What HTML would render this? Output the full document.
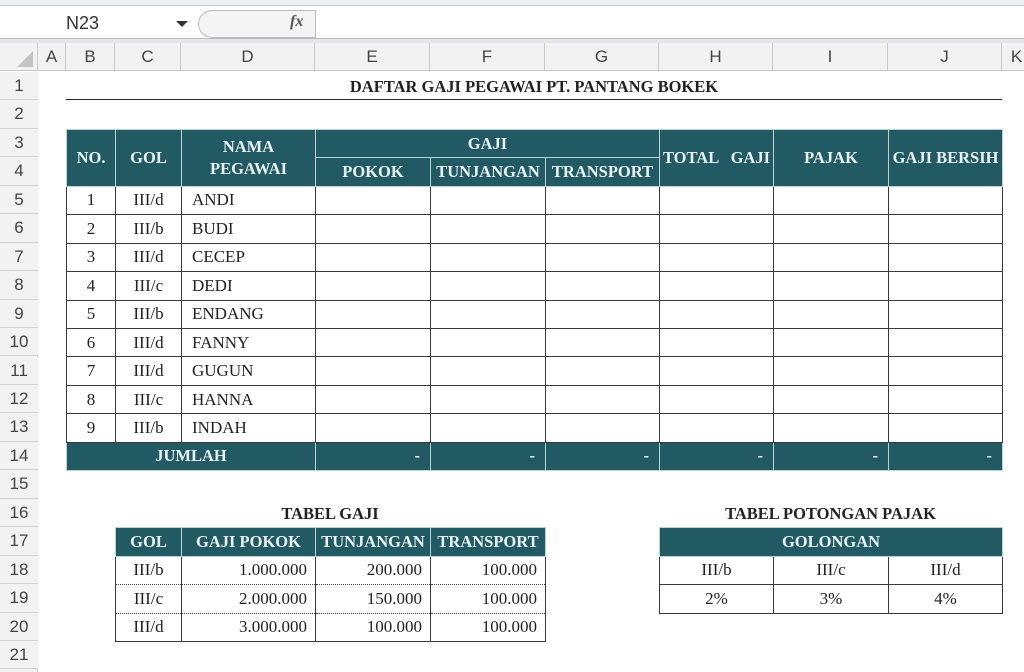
<!DOCTYPE html>
<html><head><meta charset="utf-8"><style>
*{margin:0;padding:0;box-sizing:border-box}
body{width:1024px;height:658px;background:#fff;position:relative;overflow:hidden;font-family:"Liberation Serif",serif;color:#222}
.abs{position:absolute}
.ui{font-family:"Liberation Sans",sans-serif;color:#333}
.ch{position:absolute;top:43px;height:28px;border-right:1px solid #c8c8c8;text-align:center;line-height:28px;font-size:17px;font-family:"Liberation Sans",sans-serif;color:#444}
.rh{position:absolute;left:0;width:38px;height:28.45px;border-bottom:1px solid #d0d0d0;text-align:center;font-size:17px;font-family:"Liberation Sans",sans-serif;color:#444;background:#f2f2f2;line-height:28px}
table{position:absolute;border-collapse:collapse;table-layout:fixed;font-size:17px}
td{border:1px solid #3a3a3a;height:28.45px;padding:0 8px;white-space:nowrap;overflow:hidden}
.h td{background:#225a63;color:#e8f2f2;font-weight:bold;text-align:center;border-color:#b9d3d6;font-size:16.5px;padding:0 2px}
.c{text-align:center}.r{text-align:right}
.dot td{border-bottom:1px dotted #444}
.dot2 td{border-top:1px dotted #444}
.nm{padding-left:10px}
</style></head><body>
<div class="abs" style="left:0;top:0;width:1024px;height:6px;background:#eceef0;border-bottom:1px solid #ccc"></div>
<div class="abs" style="left:0;top:38px;width:1024px;height:5px;background:#e4e6e8;border-top:1px solid #bbb"></div>
<div class="abs ui" style="left:66px;top:13px;font-size:18px">N23</div>
<div class="abs" style="left:176px;top:21px;width:0;height:0;border-left:6px solid transparent;border-right:6px solid transparent;border-top:6px solid #333"></div>
<div class="abs" style="left:198px;top:10px;width:117px;height:28px;border:1px solid #bbb;border-right:none;border-radius:14px 0 0 14px;background:#f4f4f4"></div>
<div class="abs" style="left:290px;top:13px;font-style:italic;font-weight:bold;font-size:16px;color:#555">fx</div>
<div class="abs" style="left:315px;top:10px;width:1px;height:28px;background:#bbb"></div>
<div class="abs" style="left:0;top:43px;width:1024px;height:28px;background:#f2f2f2;border-bottom:1px solid #c8c8c8"></div>
<div class="ch" style="left:0;width:38px"><div style="position:absolute;right:4px;bottom:4px;width:0;height:0;border-left:16px solid transparent;border-bottom:16px solid #c4c4c4"></div></div>
<div class="ch" style="left:38px;width:28px">A</div>
<div class="ch" style="left:66px;width:49px">B</div>
<div class="ch" style="left:115px;width:66px">C</div>
<div class="ch" style="left:181px;width:134px">D</div>
<div class="ch" style="left:315px;width:115px">E</div>
<div class="ch" style="left:430px;width:115px">F</div>
<div class="ch" style="left:545px;width:114px">G</div>
<div class="ch" style="left:659px;width:114px">H</div>
<div class="ch" style="left:773px;width:115px">I</div>
<div class="ch" style="left:888px;width:114px">J</div>
<div class="ch" style="left:1002px;width:30px">K</div>
<div class="abs" style="left:0;top:72px;width:38px;height:600px;background:#f2f2f2;border-right:1px solid #c8c8c8"></div>
<div class="rh" style="top:72px">1</div><div class="rh" style="top:100.45px">2</div><div class="rh" style="top:128.9px">3</div><div class="rh" style="top:157.35px">4</div><div class="rh" style="top:185.8px">5</div><div class="rh" style="top:214.25px">6</div><div class="rh" style="top:242.7px">7</div><div class="rh" style="top:271.15px">8</div><div class="rh" style="top:299.6px">9</div><div class="rh" style="top:328.05px">10</div><div class="rh" style="top:356.5px">11</div><div class="rh" style="top:384.95px">12</div><div class="rh" style="top:413.4px">13</div><div class="rh" style="top:441.85px">14</div><div class="rh" style="top:470.3px">15</div><div class="rh" style="top:498.75px">16</div><div class="rh" style="top:527.2px">17</div><div class="rh" style="top:555.65px">18</div><div class="rh" style="top:584.1px">19</div><div class="rh" style="top:612.55px">20</div><div class="rh" style="top:641px">21</div>

<div class="abs" style="left:66px;top:77px;width:936px;text-align:center;font-weight:bold;font-size:16.5px">DAFTAR GAJI PEGAWAI PT. PANTANG BOKEK</div>
<div class="abs" style="left:66px;top:99px;width:936px;height:1px;background:#222"></div>

<table style="left:66px;top:128.9px;width:936px">
<colgroup><col style="width:49px"><col style="width:66px"><col style="width:134px"><col style="width:115px"><col style="width:115px"><col style="width:114px"><col style="width:114px"><col style="width:115px"><col style="width:114px"></colgroup>
<tr class="h"><td rowspan="2">NO.</td><td rowspan="2">GOL</td><td rowspan="2" style="line-height:22px">NAMA<br>PEGAWAI</td><td colspan="3">GAJI</td><td rowspan="2">TOTAL &nbsp; GAJI</td><td rowspan="2">PAJAK</td><td rowspan="2">GAJI BERSIH</td></tr>
<tr class="h"><td>POKOK</td><td>TUNJANGAN</td><td>TRANSPORT</td></tr>
<tr><td class="c">1</td><td class="c">III/d</td><td class="nm">ANDI</td><td></td><td></td><td></td><td></td><td></td><td></td></tr>
<tr><td class="c">2</td><td class="c">III/b</td><td class="nm">BUDI</td><td></td><td></td><td></td><td></td><td></td><td></td></tr>
<tr><td class="c">3</td><td class="c">III/d</td><td class="nm">CECEP</td><td></td><td></td><td></td><td></td><td></td><td></td></tr>
<tr><td class="c">4</td><td class="c">III/c</td><td class="nm">DEDI</td><td></td><td></td><td></td><td></td><td></td><td></td></tr>
<tr><td class="c">5</td><td class="c">III/b</td><td class="nm">ENDANG</td><td></td><td></td><td></td><td></td><td></td><td></td></tr>
<tr><td class="c">6</td><td class="c">III/d</td><td class="nm">FANNY</td><td></td><td></td><td></td><td></td><td></td><td></td></tr>
<tr><td class="c">7</td><td class="c">III/d</td><td class="nm">GUGUN</td><td></td><td></td><td></td><td></td><td></td><td></td></tr>
<tr><td class="c">8</td><td class="c">III/c</td><td class="nm">HANNA</td><td></td><td></td><td></td><td></td><td></td><td></td></tr>
<tr><td class="c">9</td><td class="c">III/b</td><td class="nm">INDAH</td><td></td><td></td><td></td><td></td><td></td><td></td></tr>
<tr class="h"><td colspan="3" style="border-right-color:#b9d3d6">JUMLAH</td><td style="text-align:right;padding-right:10px">-</td><td style="text-align:right;padding-right:10px">-</td><td style="text-align:right;padding-right:10px">-</td><td style="text-align:right;padding-right:10px">-</td><td style="text-align:right;padding-right:10px">-</td><td style="text-align:right;padding-right:10px">-</td></tr>
</table>

<div class="abs" style="left:115px;top:504px;width:430px;text-align:center;font-weight:bold;font-size:16.5px">TABEL GAJI</div>
<table style="left:115px;top:527.2px;width:430px">
<colgroup><col style="width:66px"><col style="width:134px"><col style="width:115px"><col style="width:115px"></colgroup>
<tr class="h"><td>GOL</td><td>GAJI POKOK</td><td>TUNJANGAN</td><td>TRANSPORT</td></tr>
<tr class="dot"><td class="c">III/b</td><td class="r">1.000.000</td><td class="r">200.000</td><td class="r">100.000</td></tr>
<tr class="dot dot2"><td class="c">III/c</td><td class="r">2.000.000</td><td class="r">150.000</td><td class="r">100.000</td></tr>
<tr class="dot2"><td class="c">III/d</td><td class="r">3.000.000</td><td class="r">100.000</td><td class="r">100.000</td></tr>
</table>

<div class="abs" style="left:659px;top:504px;width:343px;text-align:center;font-weight:bold;font-size:16.5px">TABEL POTONGAN PAJAK</div>
<table style="left:659px;top:527.2px;width:343px">
<colgroup><col style="width:114px"><col style="width:115px"><col style="width:114px"></colgroup>
<tr class="h"><td colspan="3">GOLONGAN</td></tr>
<tr><td class="c">III/b</td><td class="c">III/c</td><td class="c">III/d</td></tr>
<tr><td class="c">2%</td><td class="c">3%</td><td class="c">4%</td></tr>
</table>
</body></html>
